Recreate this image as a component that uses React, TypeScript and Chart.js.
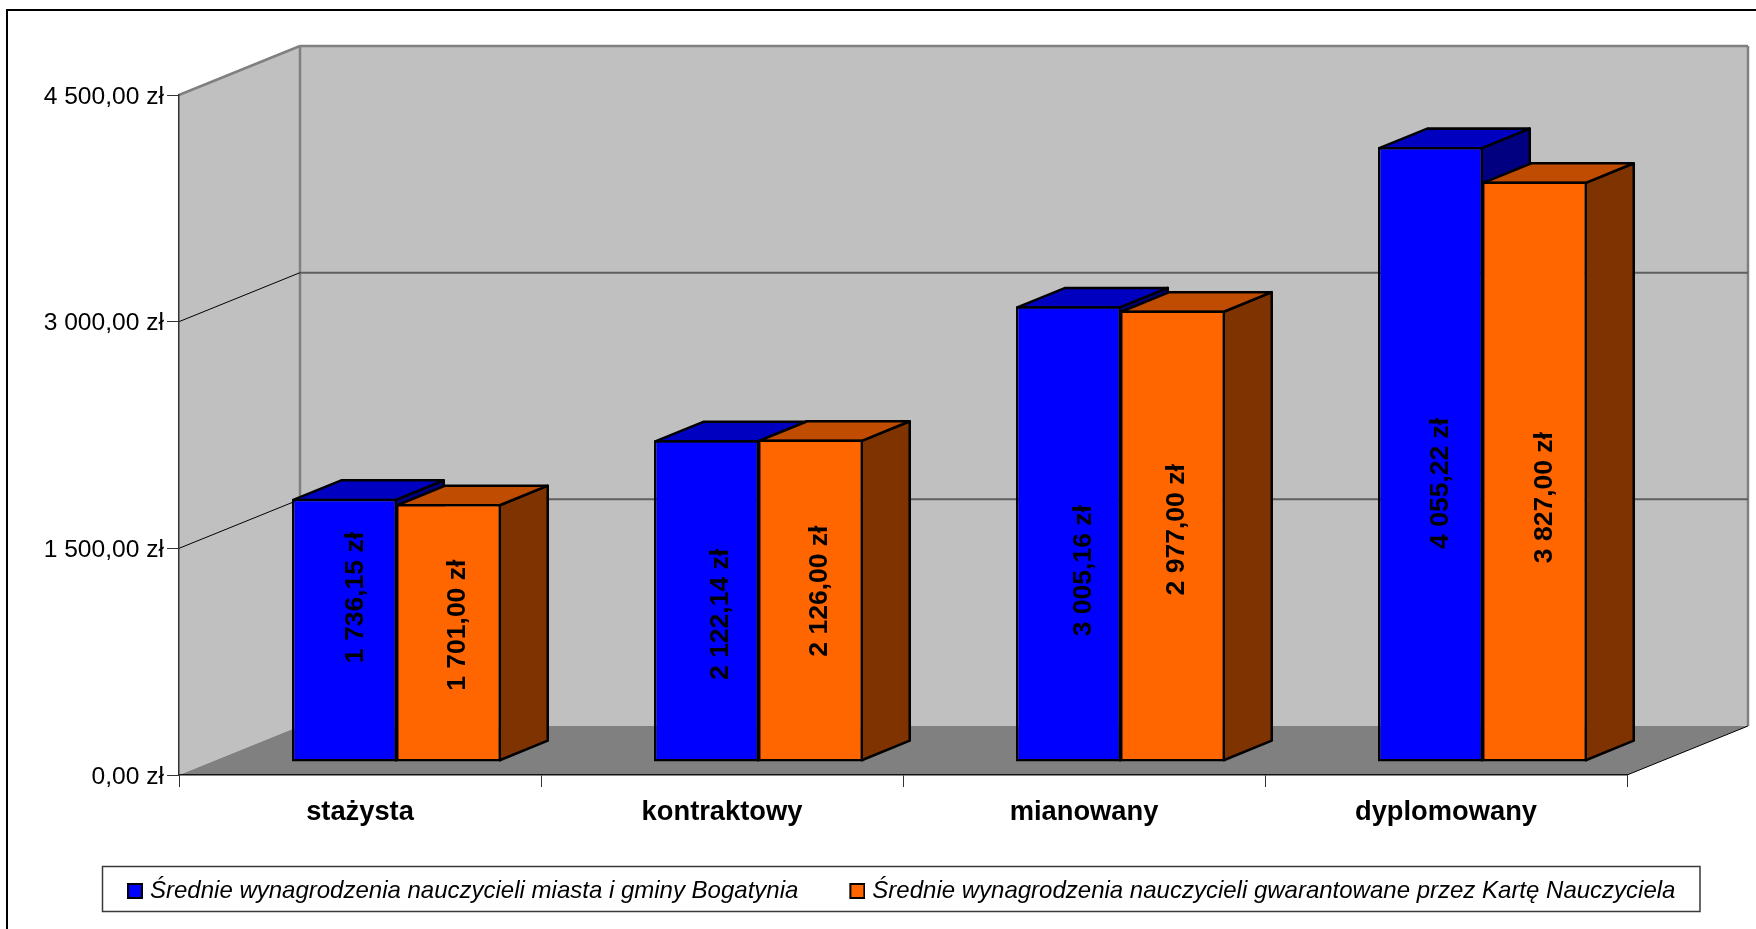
import React, { useEffect, useRef } from "react";
import { Chart } from "chart.js/auto";

const categories = ["stażysta", "kontraktowy", "mianowany", "dyplomowany"];
const cityAverage = [1736.15, 2122.14, 3005.16, 4055.22];
const charterGuaranteed = [1701.0, 2126.0, 2977.0, 3827.0];
const seriesNames = [
  "Średnie wynagrodzenia nauczycieli miasta i gminy Bogatynia",
  "Średnie wynagrodzenia nauczycieli gwarantowane przez Kartę Nauczyciela",
];
const seriesColors = ["#0000FF", "#FF6600"];
const FONT = "'Liberation Sans', Arial, sans-serif";

const WALL = { dx: 121, dy: -49 };
const BAR_SHIFT = { dx: 37, dy: -13 };
const BAR_DEPTH = { dx: 48, dy: -19.5 };
const BAR_LINE = 2.5;
const BAR_STRETCH = 1.0037; // the drawn outline adds a little height to the bars
const faces = [
  { side: "#000080", top: "#0000C0" },
  { side: "#7F3300", top: "#BF4C00" },
];
const labelNudge = [
  [[11, -33], [14, 13], [15, 36], [10, 28]],
  [[8, -8], [8, -10], [3, -7], [9, 25]],
];

const fmt = (v: number) =>
  v.toFixed(2).replace(".", ",").replace(/\B(?=(\d{3})+(?!\d))/g, " ") + " zł";

const poly = (ctx: CanvasRenderingContext2D, pts: number[][], fill?: string, stroke?: string, lw = 1) => {
  ctx.beginPath();
  pts.forEach((p, i) => (i ? ctx.lineTo(p[0], p[1]) : ctx.moveTo(p[0], p[1])));
  ctx.closePath();
  if (fill) { ctx.fillStyle = fill; ctx.fill(); }
  if (stroke) { ctx.strokeStyle = stroke; ctx.lineWidth = lw; ctx.lineJoin = "round"; ctx.stroke(); }
};
const line = (ctx: CanvasRenderingContext2D, a: number[], b: number[], color: string, lw: number) => {
  ctx.beginPath(); ctx.moveTo(a[0], a[1]); ctx.lineTo(b[0], b[1]);
  ctx.strokeStyle = color; ctx.lineWidth = lw; ctx.stroke();
};

// legend marker: the swatch sits at the right of a wider sprite, close to its text
const marker = (color: string) => {
  const c = document.createElement("canvas");
  c.width = 26; c.height = 16;
  const g = c.getContext("2d")!;
  g.fillStyle = "#000"; g.fillRect(10, 0, 16, 16);
  g.fillStyle = color; g.fillRect(12, 2, 12, 12);
  return c;
};

const scene = {
  id: "scene",
  afterLayout(chart: any) {
    const lg = chart.legend;
    if (!lg) return;
    const w = lg.width, h = lg.height;
    lg.left = 76; lg.right = lg.left + w;
    lg.top = 833; lg.bottom = lg.top + h;
  },
  beforeDraw(chart: any) {
    const { ctx, scales: { x, y } } = chart;
    ctx.save();
    ctx.strokeStyle = "#000"; ctx.lineWidth = 2;
    ctx.strokeRect(7, 10, 1800, 1000);
    const l = x.left, r = x.right;
    const y0 = y.getPixelForValue(y.min), yT = y.getPixelForValue(y.max);
    const { dx, dy } = WALL;
    poly(ctx, [[l, y0], [l, yT], [l + dx, yT + dy], [l + dx, y0 + dy]], "#C0C0C0");
    poly(ctx, [[l + dx, y0 + dy], [l + dx, yT + dy], [r + dx, yT + dy], [r + dx, y0 + dy]], "#C0C0C0");
    poly(ctx, [[l, y0], [r, y0], [r + dx, y0 + dy], [l + dx, y0 + dy]], "#808080");
    line(ctx, [l, yT], [l + dx, yT + dy], "#808080", 2.5);
    line(ctx, [l + dx, yT + dy], [r + dx, yT + dy], "#808080", 2.5);
    line(ctx, [l + dx, yT + dy], [l + dx, y0 + dy], "#808080", 2.5);
    line(ctx, [r + dx, yT + dy], [r + dx, y0 + dy], "#808080", 2.5);
    y.ticks.forEach((t: any) => {
      if (t.value === y.min || t.value === y.max) return;
      const py = y.getPixelForValue(t.value);
      line(ctx, [l, py], [l + dx, py + dy], "#000", 1);
      line(ctx, [l + dx, py + dy], [r + dx, py + dy], "#5f5f5f", 2);
    });
    line(ctx, [r, y0], [r + dx, y0 + dy], "#000", 1);
    ctx.strokeStyle = "#3a3a3a"; ctx.lineWidth = 1.5;
    ctx.strokeRect(102.5, 866.5, 1597.5, 45);
    ctx.restore();
  },
  beforeDatasetDraw() { return false; },
  afterDatasetsDraw(chart: any) {
    const { ctx, scales: { y } } = chart;
    const y0 = y.getPixelForValue(y.min);
    chart.data.datasets.forEach((_: any, i: number) => {
      const meta = chart.getDatasetMeta(i);
      const sx = BAR_SHIFT.dx - i, sy = BAR_SHIFT.dy;
      const { dx, dy } = BAR_DEPTH;
      const inset = BAR_LINE / 2;
      ctx.save();
      ctx.translate(sx, sy + y0);
      ctx.scale(1, BAR_STRETCH);
      ctx.translate(0, -y0);
      meta.data.forEach((b: any) => {
        const R = b.x + b.width / 2 - inset, L = b.x - b.width / 2 + inset, T = b.y + inset, B = b.base - inset;
        poly(ctx, [[R, B], [R, T], [R + dx, T + dy], [R + dx, B + dy]], faces[i].side, "#000", BAR_LINE);
        poly(ctx, [[L, T], [R, T], [R + dx, T + dy], [L + dx, T + dy]], faces[i].top, "#000", BAR_LINE);
      });
      meta.controller.draw();
      ctx.restore();
    });
    ctx.save();
    ctx.fillStyle = "#000";
    ctx.font = `bold 26.5px ${FONT}`;
    ctx.textAlign = "center"; ctx.textBaseline = "middle";
    chart.data.datasets.forEach((ds: any, i: number) => {
      chart.getDatasetMeta(i).data.forEach((b: any, j: number) => {
        const [nx, ny] = labelNudge[i][j];
        ctx.save();
        ctx.translate(b.x + BAR_SHIFT.dx + nx, (b.y + b.base) / 2 + BAR_SHIFT.dy + ny);
        ctx.rotate(-Math.PI / 2);
        ctx.fillText(fmt(ds.data[j]), 0, 0);
        ctx.restore();
      });
    });
    ctx.restore();
  },
};

export default function App() {
  const ref = useRef<HTMLCanvasElement>(null);
  useEffect(() => {
    const chart = new Chart(ref.current!, {
      type: "bar",
      data: {
        labels: categories,
        datasets: [
          { label: seriesNames[0], data: cityAverage, backgroundColor: seriesColors[0], borderColor: "#000", borderWidth: BAR_LINE, borderSkipped: false },
          { label: seriesNames[1], data: charterGuaranteed, backgroundColor: seriesColors[1], borderColor: "#000", borderWidth: BAR_LINE, borderSkipped: false },
        ],
      },
      plugins: [scene],
      options: {
        responsive: false,
        animation: false,
        layout: { padding: { top: 95, right: 0, left: 0, bottom: 0 } },
        datasets: { bar: { categoryPercentage: 0.58, barPercentage: 1 } },
        plugins: {
          title: { display: false },
          tooltip: { enabled: false },
          legend: {
            position: "bottom",
            align: "start",
            labels: {
              boxWidth: 16, boxHeight: 16, padding: 46, color: "#000",
              usePointStyle: true, pointStyleWidth: 16,
              font: { family: FONT, size: 24, style: "italic" },
              generateLabels(c: any) {
                return Chart.defaults.plugins.legend.labels.generateLabels(c).map((it: any, i: number) => ({
                  ...it, pointStyle: marker(seriesColors[i]),
                }));
              },
            },
          },
        },
        scales: {
          x: {
            grid: { offset: true, drawOnChartArea: false, tickLength: 12, color: "#333", lineWidth: 1 },
            border: { color: "#111", width: 1.5 },
            ticks: { color: "#000", padding: 9, maxRotation: 0, font: { family: FONT, size: 27.3, weight: "bold" } },
            afterFit(s: any) { s.height = 154 - (s.chart.legend?.height || 0); },
          },
          y: {
            min: 0, max: 4500,
            grid: { drawOnChartArea: false, tickLength: 12, color: "#333", lineWidth: 1 },
            border: { color: "#333", width: 1.5 },
            ticks: {
              stepSize: 1500, color: "#000", padding: 3, labelOffset: 2,
              font: { family: FONT, size: 24.6 },
              callback: (v: any) => fmt(Number(v)),
            },
            afterFit(s: any) { s.width = 179; },
          },
          // empty axis that only reserves the room the 3D depth needs on the right
          depthRoom: {
            type: "linear", position: "right", min: 0, max: 1,
            grid: { display: false }, border: { display: false }, ticks: { display: false },
            afterFit(s: any) { s.width = 129; },
          },
        },
      } as any,
    });
    return () => chart.destroy();
  }, []);
  return <canvas ref={ref} width={1756} height={929} style={{ position: "absolute", left: 0, top: 0, display: "block" }} />;
}
